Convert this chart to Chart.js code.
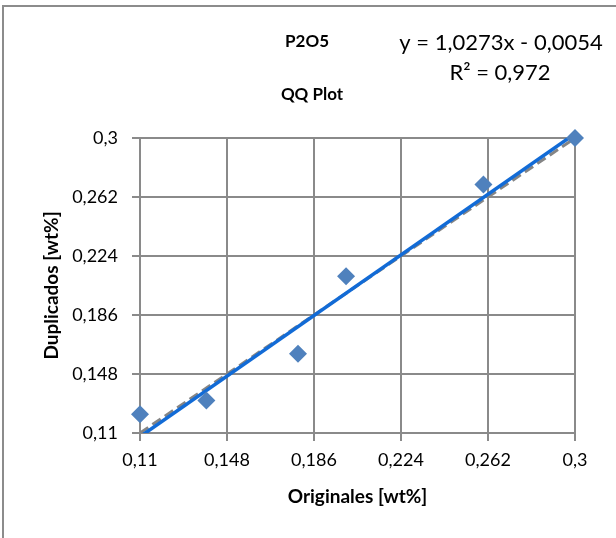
<!DOCTYPE html>
<html>
<head>
<meta charset="utf-8">
<script src="https://cdn.jsdelivr.net/npm/chart.js@4"></script>
<style>
  html, body { margin: 0; padding: 0; background: #fff; }
  #wrap { width: 616px; height: 538px; }
</style>
</head>
<body>
<div id="wrap"><canvas id="qqChart" width="616" height="538"></canvas></div>
<script>
// --- Donnees ---
const originales = [0.110, 0.139, 0.179, 0.200, 0.260, 0.300];
const duplicados = [0.122, 0.131, 0.161, 0.211, 0.270, 0.300];
const tickValues = [0.11, 0.148, 0.186, 0.224, 0.262, 0.3];
const tickLabels = ["0,11", "0,148", "0,186", "0,224", "0,262", "0,3"];
const trendCoef = [1.0273, -0.0054];   // pente, ordonnee
const identityRange = [0.11, 0.3];     // droite y = x
const titleLines = ["P2O5", "QQ Plot"];
const eqLines = ["y = 1,0273x - 0,0054", "R² = 0,972"];

const FONT = "Lato, 'Open Sans', sans-serif";
const GRID = "#8a8a8a";

const points = originales.map((x, i) => ({ x: x, y: duplicados[i] }));
const trend = identityRange.map(x => ({ x: x, y: trendCoef[0] * x + trendCoef[1] }));
const identity = identityRange.map(x => ({ x: x, y: x }));

// cadre + textes libres (titre, equation de la tendance)
const decor = {
    id: "decor",
    beforeDraw(chart) {
        const c = chart.ctx;
        c.save();
        c.fillStyle = "#fff";
        c.fillRect(0, 0, chart.width, chart.height);
        c.strokeStyle = "#8c8c8c";
        c.lineWidth = 2;
        c.beginPath();
        c.moveTo(3, chart.height);
        c.lineTo(3, 6);
        c.lineTo(chart.width, 6);
        c.stroke();
        c.restore();
    },
    afterDraw(chart) {
        const c = chart.ctx;
        c.save();
        c.fillStyle = "#000";
        c.textAlign = "center";
        c.textBaseline = "middle";
        c.font = "bold 17px " + FONT;
        c.fillText(titleLines[0], 307, 42);
        c.fillText(titleLines[1], 312, 95);
        c.font = "22px " + FONT;
        c.fillText(eqLines[0], 501, 43);
        c.fillText(eqLines[1], 500, 73);
        c.restore();
    }
};

const ctx = document.getElementById("qqChart");
new Chart(ctx, {
    type: "scatter",
    data: {
        datasets: [
            {
                label: "Duplicados",
                data: points,
                pointStyle: "rectRot",
                pointRadius: 9,
                pointHoverRadius: 9,
                backgroundColor: "#4f81bd",
                borderColor: "#4f81bd",
                borderWidth: 0,
                clip: false,
                order: 0
            },
            {
                label: "Tendencia",
                type: "line",
                data: trend,
                borderColor: "#126bd6",
                borderWidth: 3.5,
                pointRadius: 0,
                fill: false,
                order: 1
            },
            {
                label: "y = x",
                type: "line",
                data: identity,
                borderColor: "#858585",
                borderWidth: 3,
                borderDash: [10, 5],
                pointRadius: 0,
                fill: false,
                order: 2
            }
        ]
    },
    options: {
        responsive: false,
        animation: false,
        devicePixelRatio: 1,
        layout: { padding: { top: 138, right: 41, bottom: 0, left: 0 } },
        plugins: {
            legend: { display: false },
            tooltip: { enabled: false }
        },
        scales: {
            x: {
                type: "linear",
                min: 0.11,
                max: 0.3,
                afterBuildTicks: s => { s.ticks = tickValues.map(v => ({ value: v })); },
                afterFit: s => { s.height = 105; },
                border: { color: GRID, width: 2 },
                grid: { color: GRID, lineWidth: 2, tickLength: 8 },
                ticks: {
                    color: "#000",
                    font: { family: FONT, size: 18 },
                    padding: 8,
                    maxRotation: 0,
                    callback: (v, i) => tickLabels[i]
                },
                title: {
                    display: true,
                    text: "Originales [wt%]",
                    color: "#000",
                    font: { family: FONT, size: 19, weight: "bold" },
                    padding: { top: 0, bottom: 30 }
                }
            },
            y: {
                type: "linear",
                min: 0.11,
                max: 0.3,
                afterBuildTicks: s => { s.ticks = tickValues.map(v => ({ value: v })); },
                afterFit: s => { s.width = 140; },
                border: { color: GRID, width: 2 },
                grid: { color: GRID, lineWidth: 2, tickLength: 8 },
                ticks: {
                    color: "#000",
                    font: { family: FONT, size: 18 },
                    padding: 14,
                    callback: (v, i) => tickLabels[i]
                },
                title: {
                    display: true,
                    text: "Duplicados [wt%]",
                    color: "#000",
                    font: { family: FONT, size: 19, weight: "bold" },
                    padding: { top: 40, bottom: 0 }
                }
            }
        }
    },
    plugins: [decor]
});
</script>
</body>
</html>
